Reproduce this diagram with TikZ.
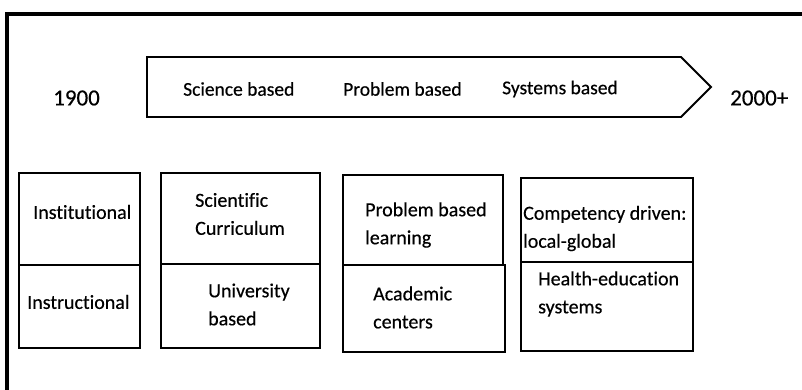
\documentclass[tikz,border=0pt]{standalone}
\usepackage{fontspec}
\setmainfont{Carlito}[Ligatures=NoCommon,FakeBold=0.4]
\begin{document}
\begin{tikzpicture}[x=1pt,y=-1pt,
  frame/.style={line width=3.2pt},
  cell/.style={draw,line width=1.9pt,minimum width=0pt,minimum height=0pt,inner sep=0pt},
  era/.style={font=\fontsize{19.5}{24}\selectfont,anchor=west,inner sep=0pt},
  year/.style={font=\fontsize{23}{28}\selectfont,anchor=west,inner sep=0pt},
  label/.style={font=\fontsize{20}{28}\selectfont,anchor=west,align=left,inner sep=0pt}]
\useasboundingbox (0,0) rectangle (802,390);
% outer frame: top and left edges only
\coordinate (ftl) at (7,14);
\coordinate (ftr) at (802,14);
\coordinate (fbl) at (7,390);
\draw[frame] (fbl) -- (ftl) -- (ftr);
% timeline arrow
\coordinate (a1) at (147,57);
\coordinate (a2) at (681,57);
\coordinate (a3) at (711,87);
\coordinate (a4) at (681,117);
\coordinate (a5) at (147,117);
\draw[line width=1.9pt,line join=miter] (a1) -- (a2) -- (a3) -- (a4) -- (a5) -- cycle;
\node[year] (y1900) at (53,98) {1900};
\node[year] (y2000) at (730,98) {2000+};
\node[era] (sci) at (183,89) {Science based};
\node[era] (prob) at (343,89) {Problem based};
\node[era] (sys) at (502,89) {Systems based};
% column 1
\node[cell,minimum width=121pt,minimum height=92pt,anchor=north west] (c1a) at (18,172) {};
\node[cell,minimum width=121pt,minimum height=83pt,anchor=north west] (c1b) at (18,264) {};
\node[label] (t1a) at (33,212) {Institutional};
\node[label] (t1b) at (27,302) {Instructional};
% column 2
\node[cell,minimum width=159pt,minimum height=91pt,anchor=north west] (c2a) at (160,172) {};
\node[cell,minimum width=159pt,minimum height=84pt,anchor=north west] (c2b) at (160,263) {};
\node[label] (t2a) at (195,214) {Scientific\\Curriculum};
\node[label] (t2b) at (208,304.5) {University\\based};
% column 3
\node[cell,minimum width=160pt,minimum height=90pt,anchor=north west] (c3a) at (342,174) {};
\node[cell,minimum width=162pt,minimum height=87pt,anchor=north west] (c3b) at (342,264) {};
\node[label] (t3a) at (365,225) {Problem based\\learning};
\node[label] (t3b) at (373,307.5) {Academic\\centers};
% column 4
\node[cell,minimum width=172pt,minimum height=84pt,anchor=north west] (c4a) at (520,177) {};
\node[cell,minimum width=172pt,minimum height=89pt,anchor=north west] (c4b) at (520,261) {};
\node[label] (t4a) at (523,228.5) {Competency driven:\\local-global};
\node[label] (t4b) at (538,294) {Health-education\\systems};
\end{tikzpicture}
\end{document}
